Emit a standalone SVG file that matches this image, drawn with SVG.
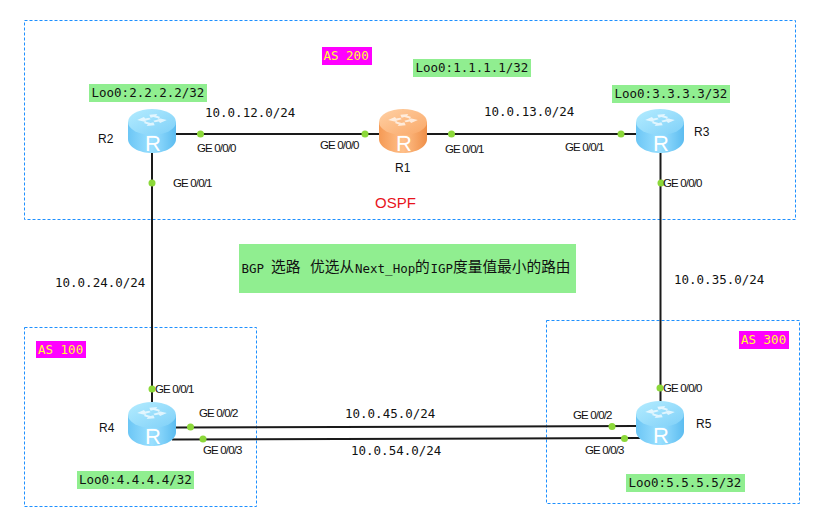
<svg xmlns="http://www.w3.org/2000/svg" xmlns:xlink="http://www.w3.org/1999/xlink" width="820" height="518" viewBox="0 0 820 518">
<style>
.zone{fill:none;stroke:#1e90ff;stroke-width:1;stroke-dasharray:3 2}
.link{fill:none;stroke:#1a1a1a;stroke-width:2}
.dot{fill:#8cd83a}
.green{fill:#90ee90}
.magenta{fill:#ff00ff}
.mono{font-family:"DejaVu Sans Mono","Liberation Mono",monospace;font-size:12.5px;fill:#111}
.as{fill:#ffff33}
.port{font-family:"Liberation Sans",Arial,sans-serif;font-size:11.5px;letter-spacing:-.85px;fill:#111}
.rname{font-family:"Liberation Sans",Arial,sans-serif;font-size:12px;fill:#111}
.cjk{font-family:"Noto Sans CJK SC",sans-serif;font-size:14.7px;fill:#111}
.glyph{fill:#fff;opacity:.7}
.rl{font-family:"Liberation Sans",Arial,sans-serif;font-size:22px;fill:#fff;text-anchor:middle}
</style>
<defs>
<linearGradient id="bs" x1="0" x2="1" y1="0" y2="0"><stop offset="0" stop-color="#6cc6f5"/><stop offset=".5" stop-color="#9be0ff"/><stop offset="1" stop-color="#5cbcf0"/></linearGradient>
<linearGradient id="bt" x1="0" x2="1" y1="0" y2="1"><stop offset="0" stop-color="#b4ecff"/><stop offset="1" stop-color="#7fd0f8"/></linearGradient>
<linearGradient id="os" x1="0" x2="1" y1="0" y2="0"><stop offset="0" stop-color="#f59a55"/><stop offset=".5" stop-color="#ffc08a"/><stop offset="1" stop-color="#ef8f48"/></linearGradient>
<linearGradient id="ot" x1="0" x2="1" y1="0" y2="1"><stop offset="0" stop-color="#ffd0a4"/><stop offset="1" stop-color="#f9a868"/></linearGradient>
<g id="arrows">
<path class="glyph" transform="scale(1.35 .75)" d="M-11 -2l5 -4 1 2 3 -1 1 2-4 2 1 2zM11 -2l-5 4-1-2-3 1-1-2 4-2-1-2zM-2 -9l6-1-1 2 3 2-1 2-4-2-2 1zM2 5l-6 1 1-2-3-2 1-2 4 2 2-1z"/>
</g>
<g id="r-blue">
<path fill="url(#bs)" d="M-24 -9V8C-24 16-13 22 0 22S24 16 24 8V-9Z"/>
<ellipse cx="0" cy="-9" rx="24" ry="13" fill="url(#bt)"/>
<use xlink:href="#arrows" href="#arrows" y="-9.500"/>
</g>
<g id="r-orange">
<path fill="url(#os)" d="M-24 -9V8C-24 16-13 22 0 22S24 16 24 8V-9Z"/>
<ellipse cx="0" cy="-9" rx="24" ry="13" fill="url(#ot)"/>
<use xlink:href="#arrows" href="#arrows" y="-9.500"/>
</g>
</defs>
<rect width="820" height="518" fill="#fff"/>
<g id="zones">
<rect class="zone" x="24.500" y="20.500" width="771" height="199"/>
<rect class="zone" x="24.500" y="327.500" width="232" height="179"/>
<rect class="zone" x="546.500" y="320.500" width="253" height="183"/>
</g>
<g id="connectors">
<path class="link" d="M176 134H379"/>
<path class="link" d="M427 134H636"/>
<path class="link" d="M152 153V403"/>
<path class="link" d="M660.500 153V403"/>
<path class="link" d="M176 427.500L636 426"/>
<path class="link" d="M172 439.500L640 438"/>
</g>
<g id="dots">
<circle class="dot" cx="200.500" cy="134" r="3.500"/>
<circle class="dot" cx="365" cy="134" r="3.500"/>
<circle class="dot" cx="451.500" cy="134" r="3.500"/>
<circle class="dot" cx="621" cy="134" r="3.500"/>
<circle class="dot" cx="152" cy="183" r="3.500"/>
<circle class="dot" cx="661" cy="183" r="3.500"/>
<circle class="dot" cx="152" cy="389" r="3.500"/>
<circle class="dot" cx="660" cy="388" r="3.500"/>
<circle class="dot" cx="190.500" cy="427" r="3.500"/>
<circle class="dot" cx="203" cy="439" r="3.500"/>
<circle class="dot" cx="612" cy="426.500" r="3.500"/>
<circle class="dot" cx="624.500" cy="438.500" r="3.500"/>
</g>
<g id="R2"><use xlink:href="#r-blue" href="#r-blue" x="152" y="131"/><text class="rl" x="153" y="150.500">R</text><text class="rname" x="98" y="143">R2</text></g>
<g id="R1"><use xlink:href="#r-orange" href="#r-orange" x="403" y="131"/><text class="rl" x="404" y="150.500">R</text><text class="rname" x="395" y="172">R1</text></g>
<g id="R3"><use xlink:href="#r-blue" href="#r-blue" x="660" y="131"/><text class="rl" x="661" y="150.500">R</text><text class="rname" x="694" y="136">R3</text></g>
<g id="R4"><use xlink:href="#r-blue" href="#r-blue" x="152" y="424"/><text class="rl" x="153" y="443.500">R</text><text class="rname" x="99" y="432">R4</text></g>
<g id="R5"><use xlink:href="#r-blue" href="#r-blue" x="660" y="423"/><text class="rl" x="661" y="442.500">R</text><text class="rname" x="696" y="428">R5</text></g>
<g id="labels">
<rect class="magenta" x="322" y="47" width="50" height="18"/><text class="mono as" x="323.500" y="60" style="fill:#ffff33">AS 200</text>
<rect class="magenta" x="36" y="341" width="50" height="17"/><text class="mono as" x="38" y="354" style="fill:#ffff33">AS 100</text>
<rect class="magenta" x="739" y="331" width="50" height="18"/><text class="mono as" x="741" y="344" style="fill:#ffff33">AS 300</text>
<rect class="green" x="89" y="84" width="118" height="18"/><text class="mono" x="91.500" y="96.500">Loo0:2.2.2.2/32</text>
<rect class="green" x="413" y="59" width="118" height="18"/><text class="mono" x="415.500" y="71.500">Loo0:1.1.1.1/32</text>
<rect class="green" x="612" y="85" width="118" height="18"/><text class="mono" x="614.500" y="97.500">Loo0:3.3.3.3/32</text>
<rect class="green" x="77" y="471" width="117" height="18"/><text class="mono" x="79" y="483.500">Loo0:4.4.4.4/32</text>
<rect class="green" x="626" y="474" width="119" height="18"/><text class="mono" x="628.500" y="486.500">Loo0:5.5.5.5/32</text>
<text class="mono" x="205" y="117">10.0.12.0/24</text>
<text class="mono" x="484" y="116">10.0.13.0/24</text>
<text class="mono" x="55" y="287">10.0.24.0/24</text>
<text class="mono" x="674" y="284">10.0.35.0/24</text>
<text class="mono" x="345" y="418">10.0.45.0/24</text>
<text class="mono" x="351" y="455">10.0.54.0/24</text>
<text class="port" x="197" y="152">GE 0/0/0</text>
<text class="port" x="320" y="149">GE 0/0/0</text>
<text class="port" x="445" y="153">GE 0/0/1</text>
<text class="port" x="565" y="151">GE 0/0/1</text>
<text class="port" x="173" y="187">GE 0/0/1</text>
<text class="port" x="663" y="187">GE 0/0/0</text>
<text class="port" x="155" y="393">GE 0/0/1</text>
<text class="port" x="663" y="392">GE 0/0/0</text>
<text class="port" x="199" y="417">GE 0/0/2</text>
<text class="port" x="203" y="454">GE 0/0/3</text>
<text class="port" x="573" y="419">GE 0/0/2</text>
<text class="port" x="585" y="454">GE 0/0/3</text>
<text x="375" y="208" font-family="Liberation Sans" font-size="15" fill="#e8141c">OSPF</text>
<rect class="green" x="239" y="244" width="337" height="49"/>
<text class="mono" x="241.500" y="272.500">BGP</text>
<text class="cjk" x="271" y="272">选路</text>
<text class="cjk" x="310" y="272">优选从</text>
<text class="mono" x="355" y="272.500">Next_Hop</text>
<text class="cjk" x="415" y="272">的</text>
<text class="mono" x="430.500" y="272.500">IGP</text>
<text class="cjk" x="453" y="272">度量值最小的路由</text>
</g>
</svg>
